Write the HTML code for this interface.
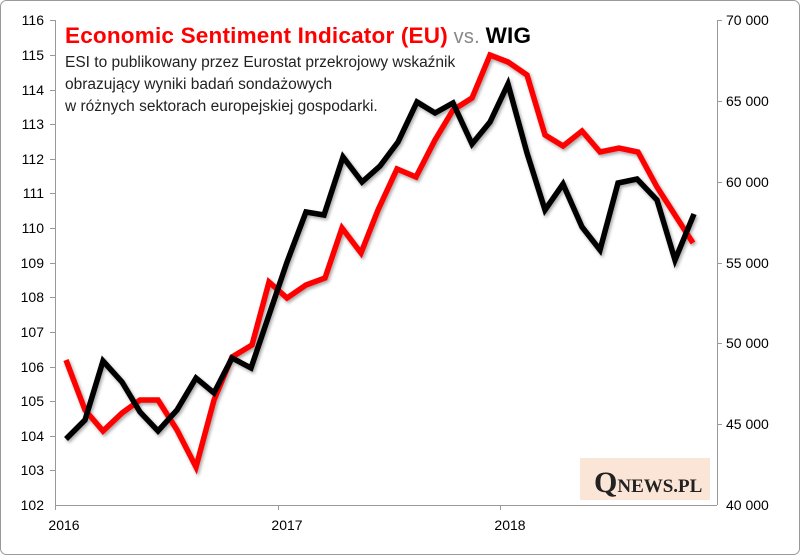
<!DOCTYPE html>
<html><head><meta charset="utf-8"><style>
body{margin:0;background:#fff;}
svg{display:block;font-family:"Liberation Sans",sans-serif;}
</style></head><body>
<svg width="800" height="555" viewBox="0 0 800 555">
<defs><filter id="sh" x="-10%" y="-10%" width="120%" height="120%"><feDropShadow dx="1.5" dy="2" stdDeviation="1.5" flood-color="#000" flood-opacity="0.35"/></filter></defs>
<rect x="0.5" y="0.5" width="799" height="554" rx="6" fill="#fff" stroke="#999"/>
<g stroke="#999" stroke-width="1" fill="none">
<line x1="55.5" y1="20" x2="55.5" y2="505"/>
<line x1="717.5" y1="20" x2="717.5" y2="505"/>
<line x1="55" y1="505.5" x2="717" y2="505.5"/>
<g>
<line x1="50" y1="20.5" x2="55" y2="20.5"/><line x1="50" y1="55.5" x2="55" y2="55.5"/><line x1="50" y1="90.5" x2="55" y2="90.5"/><line x1="50" y1="124.5" x2="55" y2="124.5"/><line x1="50" y1="159.5" x2="55" y2="159.5"/><line x1="50" y1="193.5" x2="55" y2="193.5"/><line x1="50" y1="228.5" x2="55" y2="228.5"/><line x1="50" y1="263.5" x2="55" y2="263.5"/><line x1="50" y1="297.5" x2="55" y2="297.5"/><line x1="50" y1="332.5" x2="55" y2="332.5"/><line x1="50" y1="367.5" x2="55" y2="367.5"/><line x1="50" y1="401.5" x2="55" y2="401.5"/><line x1="50" y1="436.5" x2="55" y2="436.5"/><line x1="50" y1="470.5" x2="55" y2="470.5"/>
<line x1="717" y1="20.5" x2="722" y2="20.5"/><line x1="717" y1="101.5" x2="722" y2="101.5"/><line x1="717" y1="182.5" x2="722" y2="182.5"/><line x1="717" y1="263.5" x2="722" y2="263.5"/><line x1="717" y1="343.5" x2="722" y2="343.5"/><line x1="717" y1="424.5" x2="722" y2="424.5"/>
<line x1="278.5" y1="505" x2="278.5" y2="510"/><line x1="500.5" y1="505" x2="500.5" y2="510"/><line x1="55.5" y1="505" x2="55.5" y2="510"/>
</g></g>
<g font-size="14" fill="#000" text-anchor="end">
<text x="44" y="25">116</text><text x="44" y="60">115</text><text x="44" y="95">114</text><text x="44" y="129">113</text><text x="44" y="164">112</text><text x="44" y="198">111</text><text x="44" y="233">110</text><text x="44" y="268">109</text><text x="44" y="302">108</text><text x="44" y="337">107</text><text x="44" y="372">106</text><text x="44" y="406">105</text><text x="44" y="441">104</text><text x="44" y="475">103</text><text x="44" y="510">102</text>
</g>
<g font-size="14" fill="#000" text-anchor="start">
<text x="726" y="25">70 000</text><text x="726" y="106">65 000</text><text x="726" y="187">60 000</text><text x="726" y="268">55 000</text><text x="726" y="348">50 000</text><text x="726" y="429">45 000</text><text x="726" y="510">40 000</text>
</g>
<g font-size="14" fill="#000" text-anchor="middle">
<text x="64" y="530">2016</text><text x="287" y="530">2017</text><text x="510" y="530">2018</text>
</g>
<g fill="none" stroke-width="5.5" stroke-linejoin="miter" filter="url(#sh)">
<polyline stroke="#ff0000" points="66,360 85,410 103,431 122,413 140,400 158,400 177,430 196,467 214,400 232,357 252,345 269,282 287,298 306,285 325,278 342,228 361,253 378,210 397,169 416,177 435,140 453,110 472,98 490,55 508,62 527,75 545,135 563,146 582,131 600,152 619,148 638,152 657,187 675,215 693,243"/>
<polyline stroke="#000" points="66,439 85,420 103,361 122,382 140,412 158,431 177,410 196,378 214,393 232,358 251,368 269,315 287,262 306,212 324,215 343,157 362,182 380,166 398,142 417,102 435,113 453,103 472,144 490,122 508,84 527,153 545,210 563,184 582,227 600,250 618,183 637,179 657,200 675,260 694,214"/>
</g>
<text x="65" y="43" font-size="22.5" font-weight="bold" letter-spacing="0.2"><tspan fill="#ff0000">Economic Sentiment Indicator (EU)</tspan><tspan fill="#888" font-weight="normal" font-size="20"> vs. </tspan><tspan fill="#000">WIG</tspan></text>
<g font-size="15.5" fill="#222">
<text x="65" y="67">ESI to publikowany przez Eurostat przekrojowy wskaźnik</text>
<text x="65" y="89">obrazujący wyniki badań sondażowych</text>
<text x="65" y="111">w różnych sektorach europejskiej gospodarki.</text>
</g>
<rect x="580" y="458" width="130" height="42" fill="#fbe5d6"/>
<text x="594" y="492" font-family="Liberation Serif,serif" font-weight="bold" fill="#222"><tspan font-size="30">Q</tspan><tspan font-size="19">NEWS.PL</tspan></text>
</svg>
</body></html>
